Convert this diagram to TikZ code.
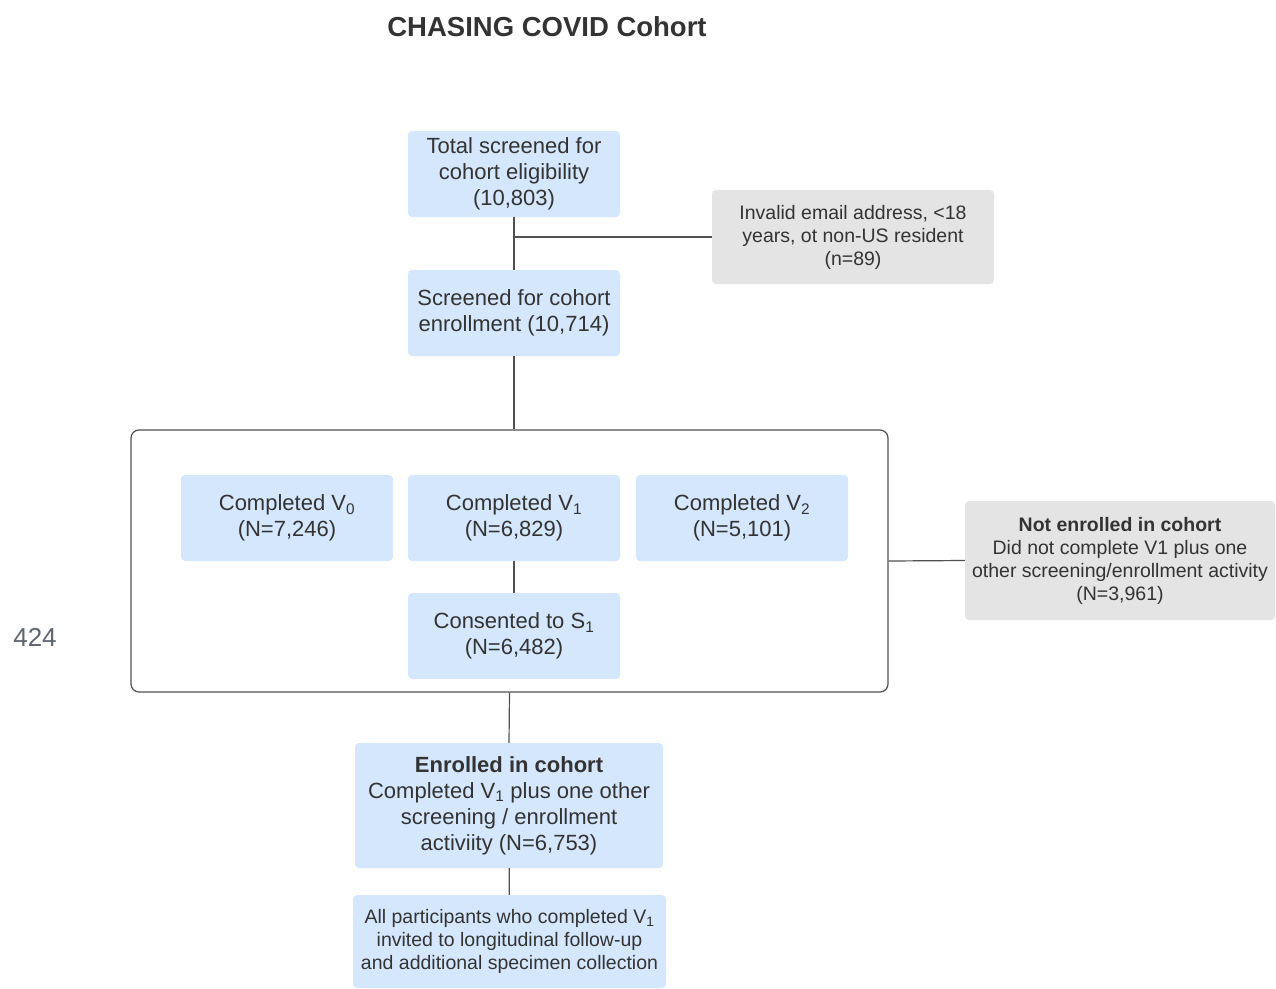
\documentclass[tikz,border=0pt]{standalone}
\usepackage{fontspec}
\setmainfont{Liberation Sans}
\usetikzlibrary{positioning}

\definecolor{boxblue}{HTML}{D5E7FD}
\definecolor{boxgray}{HTML}{E4E4E4}
\definecolor{linegray}{HTML}{505050}
\definecolor{textgray}{HTML}{333333}
\definecolor{numgray}{HTML}{5F6670}

\begin{document}
\begin{tikzpicture}[x=1pt, y=-1pt,
      every node/.append style={text=textgray, align=center, inner sep=0pt}]
    \tikzstyle{link} = [draw=linegray, line width=1.2pt]
    \tikzstyle{bluebox} = [fill=boxblue, rounded corners=4pt, minimum width=212pt, minimum height=86pt,
      font=\fontsize{22}{26}\selectfont]
    \tikzstyle{graybox} = [fill=boxgray, rounded corners=4pt, font=\fontsize{19.5}{23}\selectfont]
    \useasboundingbox (0,0) rectangle (1276,988);
    \node (title) at (547,27) [font=\fontsize{27.5}{32}\selectfont\bfseries] {CHASING COVID Cohort};
    \node (pagenum) at (35,637) [text=numgray, font=\fontsize{26}{30}\selectfont] {424};
    \node (total) at (514,174) [bluebox] {Total screened for\\cohort eligibility\\(10,803)};
    \node (invalid) at (853,237) [graybox, minimum width=282pt, minimum height=94pt]
      {Invalid email address, <18\\years, ot non-US resident\\(n=89)};
    \node (screened) at (514,313) [bluebox] {Screened for cohort\\enrollment (10,714)};
    \node (frame) at (509.5,561) [link, rounded corners=8pt,
      minimum width=757pt, minimum height=262pt] {};
    \node (vzero) at (287,518) [bluebox] {Completed V\textsubscript{0}\\(N=7,246)};
    \node (vone) at (514,518) [bluebox] {Completed V\textsubscript{1}\\(N=6,829)};
    \node (vtwo) at (742,518) [bluebox] {Completed V\textsubscript{2}\\(N=5,101)};
    \node (sone) at (514,636) [bluebox] {Consented to S\textsubscript{1}\\(N=6,482)};
    \node (notenr) at (1120,560.5) [graybox, minimum width=310pt, minimum height=119pt]
      {\textbf{Not enrolled in cohort}\\Did not complete V1 plus one\\other screening/enrollment activity\\(N=3,961)};
    \node (enrolled) at (509,805.5) [bluebox, minimum width=308pt, minimum height=125pt]
      {\textbf{Enrolled in cohort}\\Completed V\textsubscript{1} plus one other\\screening / enrollment\\activiity (N=6,753)};
    \node (followup) at (509.5,941.5) [bluebox, minimum width=313pt, minimum height=93pt,
      font=\fontsize{19.5}{23}\selectfont]
      {All participants who completed V\textsubscript{1}\\invited to longitudinal follow-up\\and additional specimen collection};
    \draw [link] (total) -- (screened);
    \draw [link] (total.south |- invalid.west) -- (invalid.west);
    \draw [link] (screened.south) -- (screened.south |- frame.north);
    \draw [link] (vone) -- (sone);
    \draw [link] (frame.east) -- (notenr.west);
    \draw [link] (frame.south) -- (enrolled.north);
    \draw [link] (enrolled) -- (followup);
\end{tikzpicture}
\end{document}
